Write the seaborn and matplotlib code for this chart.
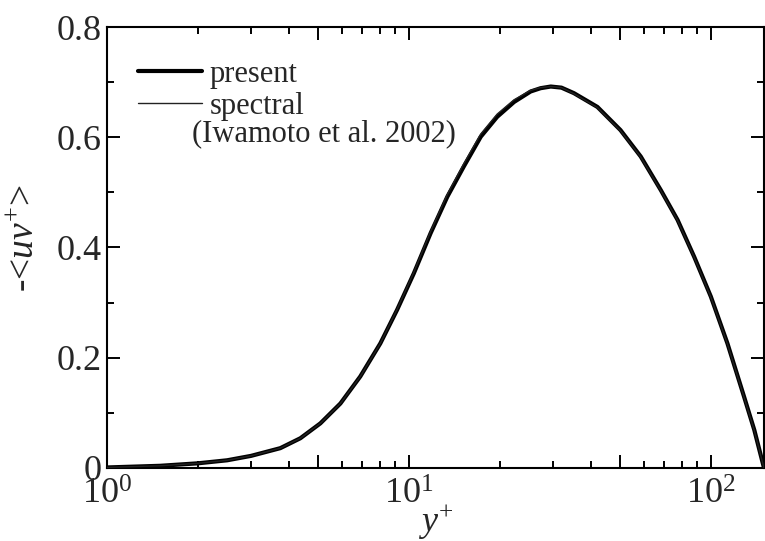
import seaborn as sns
import matplotlib.pyplot as plt
import matplotlib.ticker as mticker
import pandas as pd
import numpy as np

# y+ positions and -<uv+>
yplus = [1, 1.5, 2, 2.5, 3, 3.75, 4.37, 5.09, 5.93, 6.9, 8.04, 9.14, 10.38, 11.8, 13.4,
         15.2, 17.3, 19.6, 22.3, 25.3, 27.3, 29.5, 32, 35.2, 42.1, 50.2, 58.6, 68.3,
         77.6, 88.1, 100, 113.5, 128.9, 139.3, 150]
uv_present = [0.001, 0.004, 0.0085, 0.014, 0.022, 0.036, 0.054, 0.081, 0.117, 0.166,
              0.226, 0.287, 0.353, 0.426, 0.492, 0.547, 0.601, 0.637, 0.664, 0.683,
              0.689, 0.692, 0.690, 0.680, 0.655, 0.613, 0.565, 0.504, 0.450, 0.383,
              0.311, 0.226, 0.129, 0.069, 0.0]
uv_spectral = [0.001, 0.004, 0.0085, 0.014, 0.022, 0.036, 0.054, 0.081, 0.117, 0.166,
               0.226, 0.288, 0.355, 0.429, 0.496, 0.552, 0.606, 0.642, 0.668, 0.685,
               0.690, 0.692, 0.690, 0.679, 0.654, 0.612, 0.564, 0.503, 0.449, 0.382,
               0.310, 0.225, 0.128, 0.068, 0.0]

sns.set_style("ticks")
plt.rcParams['font.family'] = ['Liberation Serif', 'DejaVu Serif']
plt.rcParams['mathtext.fontset'] = 'custom'
plt.rcParams['mathtext.rm'] = 'Liberation Serif'
plt.rcParams['mathtext.it'] = 'Liberation Serif:italic'

df = pd.DataFrame({"yplus": yplus, "present": uv_present, "spectral": uv_spectral})

fig = plt.figure(figsize=(7.65, 5.41), dpi=100)
ax = fig.add_axes([107 / 765, 73 / 541, 657 / 765, 441 / 541])

sns.lineplot(data=df, x="yplus", y="spectral", ax=ax, color="#222222", lw=1.0,
             label="spectral", zorder=3)
sns.lineplot(data=df, x="yplus", y="present", ax=ax, color="black", lw=3.0,
             label="present", zorder=2)

ax.set_xscale("log")
ax.set_xlim(1, 150)
ax.set_ylim(0, 0.8)

# long ticks at 1,5,10,50,100, labels only on the decades
ax.xaxis.set_major_locator(mticker.FixedLocator([1, 5, 10, 50, 100]))
ax.xaxis.set_major_formatter(mticker.FixedFormatter(
    [r"$10^0$", "", r"$10^1$", "", r"$10^2$"]))
ax.xaxis.set_minor_locator(mticker.FixedLocator([2, 3, 4, 6, 7, 8, 9, 20, 30, 40, 60, 70, 80, 90]))
ax.xaxis.set_minor_formatter(mticker.NullFormatter())
ax.yaxis.set_major_locator(mticker.MultipleLocator(0.2))
ax.yaxis.set_minor_locator(mticker.MultipleLocator(0.1))
ax.yaxis.set_major_formatter(mticker.FuncFormatter(lambda v, p: "0" if v == 0 else f"{v:.1f}"))

ax.tick_params(which="both", direction="in", top=True, right=True, width=1.4, color="black")
ax.tick_params(which="major", length=9.5, labelsize=26)
ax.tick_params(axis="y", which="major", pad=4)
ax.tick_params(axis="x", which="major", pad=8)
ax.tick_params(which="minor", length=5)
for s in ax.spines.values():
    s.set_linewidth(1.5)
    s.set_color("black")

ax.set_xlabel(r"$y^{+}$", fontsize=26, labelpad=-7)
ax.set_ylabel(r"-<$uv^{+}$>", fontsize=27)
ax.yaxis.set_label_coords(-0.1, 0.52)

handles, labels = ax.get_legend_handles_labels()
order = [labels.index("present"), labels.index("spectral")]
ax.legend([handles[i] for i in order], [labels[i] for i in order],
          loc="upper left", bbox_to_anchor=(0.047, 0.925), frameon=False, fontsize=22,
          handlelength=2.1, handletextpad=0.26, labelspacing=0.1, borderpad=0,
          borderaxespad=0)
ax.text(0.13, 0.757, "(Iwamoto et al. 2002)", transform=ax.transAxes, fontsize=22,
        va="center", ha="left")

fig.savefig("out.png", dpi=100)
